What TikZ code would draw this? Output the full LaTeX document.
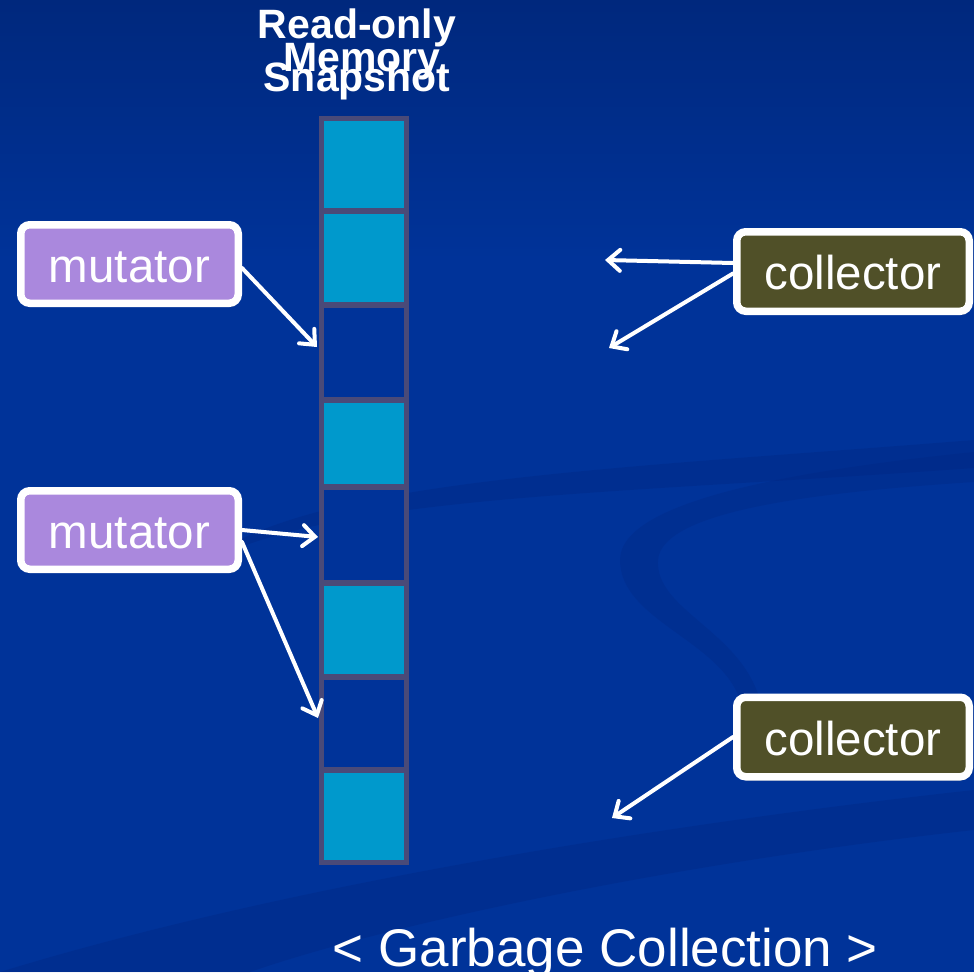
\documentclass[tikz,border=0pt]{standalone}
\usepackage{fontspec}
\setmainfont{Liberation Sans}
\usetikzlibrary{arrows.meta,shadows}
\definecolor{bg}{RGB}{0,51,153}
\definecolor{bgtop}{RGB}{0,40,125}
\definecolor{cellc}{RGB}{0,153,204}
\definecolor{cellb}{RGB}{74,74,120}
\definecolor{mutc}{RGB}{170,136,221}
\definecolor{colc}{RGB}{80,80,40}
\definecolor{swirl}{RGB}{0,36,125}
\begin{document}
\begin{tikzpicture}[x=1pt,y=-1pt,
  cellbox/.style={draw=cellb,line width=5.5pt,minimum width=85pt,inner sep=0pt},
  full/.style={cellbox,fill=cellc},
  empty/.style={cellbox,fill=bg},
  agent/.style={draw=white,line width=7.5pt,rounded corners=9pt,text=white,
    font=\fontsize{47.5}{50}\selectfont,inner sep=0pt,text height=36pt,text depth=0pt,
    drop shadow={shadow xshift=1pt,shadow yshift=-3.5pt,opacity=0.7,fill=black!85}},
  mutbox/.style={agent,fill=mutc,minimum width=217.5pt,minimum height=78.5pt},
  colbox/.style={agent,fill=colc,minimum width=232.5pt,minimum height=79.5pt},
  conn/.style={draw=white,line width=4pt,line cap=round,line join=round,
    -{Straight Barb[length=12pt,width=21pt,line cap=round]}},
  titletext/.style={text=white,font=\bfseries\fontsize{41}{41}\selectfont,inner sep=0pt,anchor=base}
]
\useasboundingbox (0,0) rectangle (974,972);
% background
\fill[bg] (0,0) rectangle (974,972);
\shade[top color=bgtop,bottom color=bg] (0,0) rectangle (974,260);
\fill[swirl,opacity=0.3] (200,565) .. controls (300,480) and (600,470) .. (974,440)
  -- (974,468) .. controls (600,495) and (330,495) .. (200,565) -- cycle;
\fill[swirl,opacity=0.25] (974,452) .. controls (800,470) and (620,500) .. (620,560)
  .. controls (620,620) and (720,640) .. (740,700) -- (760,700)
  .. controls (740,630) and (655,610) .. (658,560)
  .. controls (662,510) and (820,492) .. (974,482) -- cycle;
\fill[swirl,opacity=0.3] (0,972) .. controls (300,880) and (700,820) .. (974,790)
  -- (974,830) .. controls (700,860) and (400,920) .. (250,972) -- cycle;

% title
\node[titletext] (title1) at (357,38) {Read-only};
\node[titletext] (title2) at (362,71) {Memory};
\node[titletext] (title3) at (357,91) {Snapshot};

% memory column
\node[full,minimum height=92.5pt]  (cell1) at (364,164.75) {};
\node[full,minimum height=94pt]    (cell2) at (364,258) {};
\node[empty,minimum height=95pt]   (cell3) at (364,352.5) {};
\node[full,minimum height=87pt]    (cell4) at (364,443.5) {};
\node[empty,minimum height=96pt]   (cell5) at (364,535) {};
\node[full,minimum height=94pt]    (cell6) at (364,630) {};
\node[empty,minimum height=93pt]   (cell7) at (364,723.5) {};
\node[full,minimum height=92.5pt]  (cell8) at (364,816.25) {};

% agents
\node[mutbox] (mut1) at (129.5,264) {mutator};
\node[mutbox] (mut2) at (129.5,530) {mutator};
\node[colbox] (col1) at (853,271.5) {collector};
\node[colbox] (col2) at (853,737) {collector};

% free arrow ends
\coordinate (m1end) at (317,347);
\coordinate (m2end) at (318,537);
\coordinate (m3end) at (318,718);
\coordinate (c1end) at (605,260);
\coordinate (c2end) at (609,348);
\coordinate (c3end) at (612,818);

% connectors
\draw[conn] ([yshift=-4pt]mut1.east) -- (m1end);
\draw[conn] (mut2.east) -- (m2end);
\draw[conn] ([yshift=-12pt]mut2.east) -- (m3end);
\draw[conn] ([yshift=8.5pt]col1.west) -- (c1end);
\draw[conn] ([yshift=-2pt]col1.west) -- (c2end);
\draw[conn] (col2.west) -- (c3end);

% caption
\node[text=white,font=\fontsize{53}{53}\selectfont,inner sep=0pt,anchor=base] (caption) at (605.5,966) {< Garbage Collection >};
\end{tikzpicture}
\end{document}
